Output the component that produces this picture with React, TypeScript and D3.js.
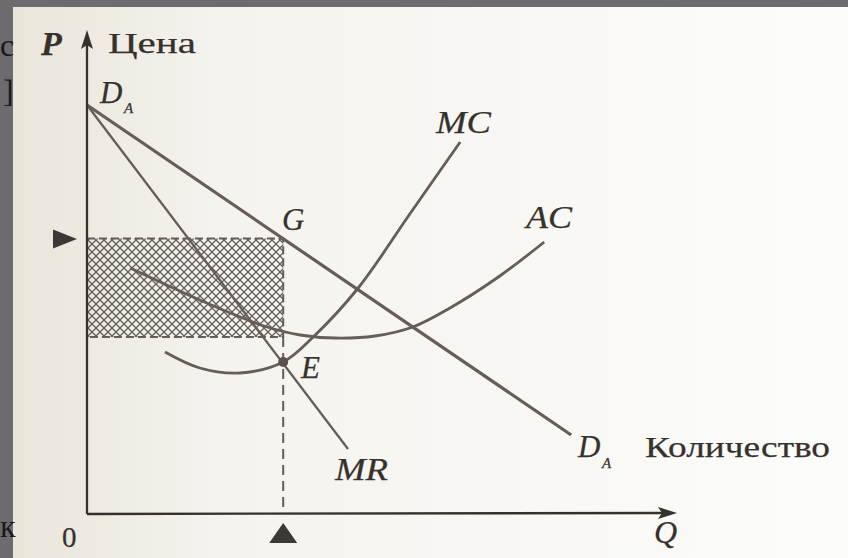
import React from "react";
import * as d3 from "d3";

// ---- data (Q in quantity units 0..100, P in price units 0..100) ----
const demandQ = [0, 80.7];
const demandP = [81.8, 15.8];
const mrQ = [0, 43.5];
const mrP = [81.8, 13.0];
const mcQ = [13.0, 18.8, 25.5, 32.7, 37.7, 45.2, 53.8, 62.2];
const mcP = [32.4, 29.2, 28.2, 30.4, 35.4, 45.2, 60.0, 74.4];
const acQ = [7.2, 13.3, 18.8, 24.3, 30.0, 35.5, 41.3, 48.0, 54.3, 60.5, 68.8, 76.2];
const acP = [49.2, 45.8, 42.8, 40.0, 37.4, 35.8, 35.2, 35.6, 37.4, 41.2, 47.6, 54.4];
const qStar = 32.7;      // profit-maximising output
const pStar = 55.1;      // price at G (on demand)
const acStar = 35.4;     // average cost at Q*
const mcStar = 30.4;     // MR = MC at E

const axisLabels = { y: "Цена", x: "Количество", yVar: "P", xVar: "Q", origin: "0" };

const W = 848;
const H = 558;

export default function App() {
  const x = d3.scaleLinear().domain([0, 100]).range([87, 687]);
  const y = d3.scaleLinear().domain([0, 100]).range([514, 14]);

  const toPts = (qs: number[], ps: number[]) => qs.map((q, i) => [q, ps[i]] as [number, number]);
  const straight = d3.line<[number, number]>().x((d) => x(d[0])).y((d) => y(d[1]));
  const smooth = d3
    .line<[number, number]>()
    .x((d) => x(d[0]))
    .y((d) => y(d[1]))
    .curve(d3.curveCatmullRom.alpha(0.5));

  const ink = "#36312d";
  const curve = "#655d56";
  const serif = "'Liberation Serif', 'DejaVu Serif', serif";

  const x0 = x(0);
  const y0 = y(0);
  const xq = x(qStar);
  const yP = y(pStar);
  const yAC = y(acStar);
  const yE = y(mcStar);

  return (
    <svg
      width={W}
      height={H}
      style={{ position: "absolute", left: 0, top: 0 }}
      xmlns="http://www.w3.org/2000/svg"
    >
      <defs>
        <linearGradient id="paper" x1="0" x2="1" y1="0" y2="0">
          <stop offset="0" stopColor="#e9e5d9" />
          <stop offset="0.25" stopColor="#f5f3ee" />
          <stop offset="1" stopColor="#fcfcfa" />
        </linearGradient>
        <pattern id="hatch" patternUnits="userSpaceOnUse" width={8} height={8}>
          <path d="M0,0 L8,8 M8,0 L0,8" stroke="#625e5a" strokeWidth={1.25} fill="none" />
        </pattern>
      </defs>

      {/* background slide + paper */}
      <rect x={0} y={0} width={W} height={H} fill="#6d6a70" />
      <rect x={13} y={7} width={W - 13} height={H - 7} fill="url(#paper)" />
      <g fontFamily={serif} fontSize={32} fill="#1a1818">
        <text x={0} y={56}>с</text>
        <text x={3} y={102}>]</text>
        <text x={0} y={537}>к</text>
      </g>

      {/* shaded profit rectangle */}
      <rect x={x0} y={yP} width={xq - x0} height={yAC - yP} fill="url(#hatch)" />
      <path
        d={`M${x0},${yP} H${xq} V${yAC} H${x0}`}
        fill="none"
        stroke={curve}
        strokeWidth={2}
        strokeDasharray="8 4"
      />
      {/* vertical dashed to Q* */}
      <line x1={xq} x2={xq} y1={yAC} y2={y0} stroke={curve} strokeWidth={2} strokeDasharray="10 6" />

      {/* curves */}
      <path d={straight(toPts(demandQ, demandP)) || ""} fill="none" stroke={curve} strokeWidth={3.2} />
      <path d={straight(toPts(mrQ, mrP)) || ""} fill="none" stroke={curve} strokeWidth={2.3} />
      <path d={smooth(toPts(acQ, acP)) || ""} fill="none" stroke={curve} strokeWidth={2.8} />
      <path d={smooth(toPts(mcQ, mcP)) || ""} fill="none" stroke={curve} strokeWidth={2.8} />
      <circle cx={xq} cy={yE} r={5} fill="#5a524b" />

      {/* axes */}
      <line x1={x0} x2={x0} y1={y0} y2={44} stroke={ink} strokeWidth={2.3} />
      <path d={`M${x0},30 L${x0 + 6},49 L${x0},45 L${x0 - 6},49 Z`} fill={ink} />
      <line x1={x0} x2={666} y1={y0} y2={y0 - 1} stroke={ink} strokeWidth={2.3} />
      <path d={`M677,${y0 - 1} L658,${y0 - 7} L662,${y0 - 1} L658,${y0 + 5} Z`} fill={ink} />

      {/* markers */}
      <path d={`M53,${yP - 9} L53,${yP + 10} L77,${yP + 0.5} Z`} fill="#3b3835" />
      <path d={`M${xq},523 L${xq - 14},543 L${xq + 14},543 Z`} fill="#3b3835" />

      {/* labels */}
      <g fontFamily={serif} fill={ink} stroke={ink} strokeWidth={0.25}>
        <text x={41} y={55} fontSize={34} fontStyle="italic" fontWeight="bold">{axisLabels.yVar}</text>
        <text x={108} y={53} fontSize={30} textLength={88} lengthAdjust="spacingAndGlyphs">{axisLabels.y}</text>
        <text x={100} y={103} fontSize={31} fontStyle="italic">D</text>
        <text x={124} y={113} fontSize={15} fontStyle="italic">A</text>
        <text x={282} y={230} fontSize={31} fontStyle="italic">G</text>
        <text x={436} y={133} fontSize={32} fontStyle="italic" textLength={55} lengthAdjust="spacingAndGlyphs">MC</text>
        <text x={526} y={228} fontSize={32} fontStyle="italic" textLength={46} lengthAdjust="spacingAndGlyphs">AC</text>
        <text x={301} y={378} fontSize={31} fontStyle="italic">E</text>
        <text x={335} y={480} fontSize={32} fontStyle="italic" textLength={53} lengthAdjust="spacingAndGlyphs">MR</text>
        <text x={578} y={457} fontSize={31} fontStyle="italic">D</text>
        <text x={602} y={468} fontSize={15} fontStyle="italic">A</text>
        <text x={645} y={457} fontSize={30} textLength={185} lengthAdjust="spacingAndGlyphs">{axisLabels.x}</text>
        <text x={654} y={543} fontSize={32} fontStyle="italic">{axisLabels.xVar}</text>
        <text x={62} y={547} fontSize={29}>{axisLabels.origin}</text>
      </g>
    </svg>
  );
}
